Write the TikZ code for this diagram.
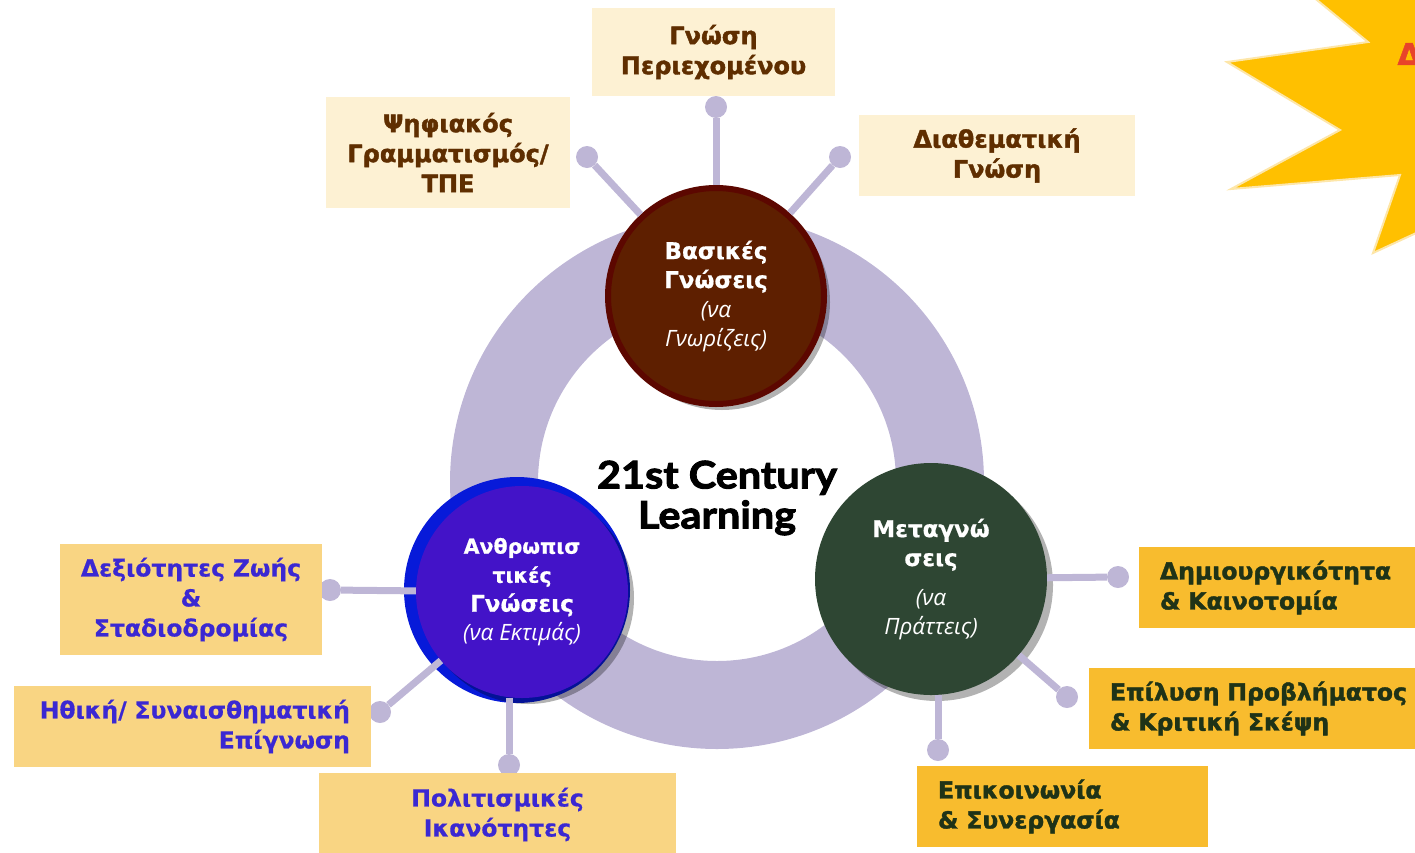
\documentclass[tikz,border=0pt]{standalone}
\usepackage{fontspec}
\setmainfont{DejaVu Sans}
\newfontfamily\heavyfont{DejaVu Sans Bold}[FakeBold=1.6]
\newfontfamily\boldfont{DejaVu Sans Bold}[FakeBold=0.6]
\newfontfamily\opensans{Open Sans}
\newfontfamily\latofont{Lato Bold}[FakeBold=2.5, FakeStretch=1.09]
\usetikzlibrary{shadows}

\definecolor{ringlav}{HTML}{BEB6D6}
\definecolor{creamfill}{HTML}{FDF1D3}
\definecolor{brownink}{HTML}{5F2E00}
\definecolor{sandfill}{HTML}{F9D583}
\definecolor{blueink}{HTML}{3B28D2}
\definecolor{goldfill}{HTML}{F8BC2E}
\definecolor{greenink}{HTML}{1F3317}
\definecolor{basfill}{HTML}{5E1F00}
\definecolor{basedge}{HTML}{5C0700}
\definecolor{antfill}{HTML}{4313C8}
\definecolor{antedge}{HTML}{071AD9}
\definecolor{metfill}{HTML}{2E4633}
\definecolor{starfill}{HTML}{FFC000}
\definecolor{staredge}{HTML}{FDE6A9}
\definecolor{starink}{HTML}{E8432A}

\newcommand{\soft}{\opensans\itshape\fontsize{22.5}{29}\selectfont}

\tikzset{
  hub/.style={circle, inner sep=0pt, text=white, align=center,
    font=\boldfont\fontsize{23}{29}\selectfont,
    drop shadow={shadow xshift=6pt, shadow yshift=-6pt, fill=black, opacity=.3}},
  spoke/.style={draw=ringlav, line width=7pt},
  knob/.style={circle, fill=ringlav, minimum size=22pt, inner sep=0pt},
  card/.style={inner xsep=21pt, inner ysep=0pt},
  creamcard/.style={card, fill=creamfill, text=brownink, align=center,
    font=\heavyfont\fontsize{24}{30}\selectfont},
  sandcard/.style={card, fill=sandfill, text=blueink,
    font=\boldfont\fontsize{23.5}{30}\selectfont},
  goldcard/.style={card, fill=goldfill, text=greenink, align=left,
    font=\heavyfont\fontsize{23.5}{30}\selectfont}
}

\begin{document}
\begin{tikzpicture}[x=1pt,y=-1pt]
  \useasboundingbox (0,0) rectangle (1415,852);
  \clip (0,0) rectangle (1415,852);

  % star, top right
  \draw[fill=starfill, draw=staredge, line width=2pt, line join=miter]
    (1295,-18) -- (1368,42) -- (1227,62) -- (1340,130) -- (1231,189)
    -- (1400,175) -- (1373,253) -- (1440,222) -- (1440,-18) -- cycle;
  \node[anchor=west, text=starink, font=\heavyfont\fontsize{30}{30}\selectfont] (burst) at (1394,54) {Δ};

  % ring
  \coordinate (mid) at (717,482);
  \draw[ringlav, line width=88pt] (mid) circle (223pt);
  \fill[antedge] (517,590) circle (113pt);

  \path
    (716,296) node[hub, fill=basfill, draw=basedge, line width=6pt, minimum size=216pt] (bas)
      {Βασικές\\Γνώσεις\\{\soft (να}\\{\soft Γνωρίζεις)}}
    (522,592) node[hub, fill=antfill, minimum size=212pt] (ant)
      {{\fontsize{20.5}{28}\selectfont Ανθρωπισ}\\{\fontsize{20.5}{28}\selectfont τικές}\\Γνώσεις\\{\soft (να Εκτιμάς)}}
    (931,579) node[hub, fill=metfill, minimum size=232pt] (met)
      {Μεταγνώ\\σεις\\[10pt]{\soft (να}\\{\soft Πράττεις)}}
    (717,498) node[align=center, font=\latofont\fontsize{38}{40}\selectfont] (title)
      {21st Century\\Learning};

  % knobs
  \path
    (716,107) node[knob] (kGP) {}
    (587,157) node[knob] (kPS) {}
    (840,157) node[knob] (kDG) {}
    (330,590) node[knob] (kDZ) {}
    (380,712) node[knob] (kHS) {}
    (509,765) node[knob] (kPI) {}
    (1118,577) node[knob] (kDK) {}
    (1067,697) node[knob] (kEP) {}
    (938,750) node[knob] (kES) {};

  \begin{scope}[spoke]
    \draw (bas) to (kGP);
    \draw (bas) to (kPS);
    \draw (bas) to (kDG);
    \draw (ant) to (kDZ);
    \draw (ant) to (kHS);
    \draw (ant.south -| kPI) to (kPI);
    \draw (met) to (kDK);
    \draw (met) to (kEP);
    \draw (met.south -| kES) to (kES);
  \end{scope}

  % cards
  \path
    (713.5,52) node[creamcard, text width=201pt, minimum height=88pt] (GP)
      {Γνώση\\Περιεχομένου}
    (448,152.5) node[creamcard, text width=202pt, minimum height=111pt] (PS)
      {Ψηφιακός\\Γραμματισμός/\\ΤΠΕ}
    (997,155.5) node[creamcard, text width=234pt, minimum height=81pt] (DG)
      {Διαθεματική\\Γνώση}
    (191,599.5) node[sandcard, align=center, inner xsep=6pt, text width=250pt, minimum height=111pt] (DZ)
      {Δεξιότητες Ζωής\\\&\\Σταδιοδρομίας}
    (192.5,726.5) node[sandcard, align=right, text width=315pt, minimum height=81pt] (HS)
      {Ηθική/ Συναισθηματική\\Επίγνωση}
    (497.5,814.5) node[sandcard, align=center, text width=315pt, minimum height=83pt] (PI)
      {Πολιτισμικές\\Ικανότητες}
    (1284.5,587.5) node[goldcard, text width=249pt, minimum height=81pt] (DK)
      {Δημιουργικότητα\\\& Καινοτομία}
    (1259.5,708.5) node[goldcard, text width=299pt, minimum height=81pt] (EP)
      {Επίλυση Προβλήματος\\\& Κριτική Σκέψη}
    (1062.5,806.5) node[goldcard, text width=249pt, minimum height=81pt] (ES)
      {Επικοινωνία\\\& Συνεργασία};
\end{tikzpicture}
\end{document}
